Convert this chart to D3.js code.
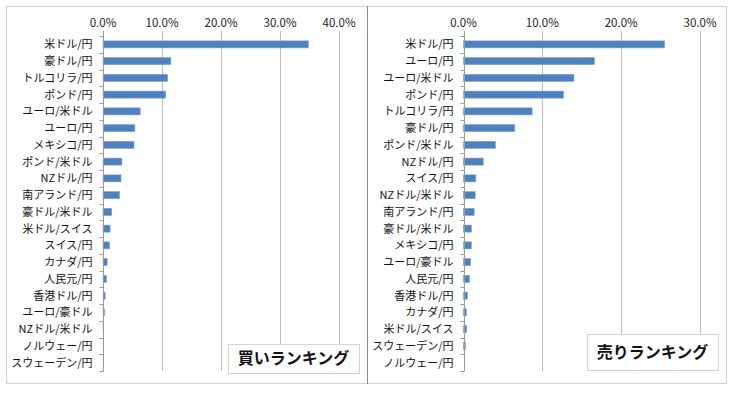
<!DOCTYPE html>
<meta charset="utf-8">
<style>
body { margin: 0; background: #fff; }
svg text { font-family: "Noto Sans CJK JP", "Noto Sans", sans-serif; }
</style>
<svg id="chart" width="740" height="396"></svg>
<script src="https://cdnjs.cloudflare.com/ajax/libs/d3/7.8.5/d3.min.js"></script>
<script>
// 買いランキング
var buyLabels = ["米ドル/円", "豪ドル/円", "トルコリラ/円", "ポンド/円", "ユーロ/米ドル", "ユーロ/円", "メキシコ/円",
    "ポンド/米ドル", "NZドル/円", "南アランド/円", "豪ドル/米ドル", "米ドル/スイス", "スイス/円", "カナダ/円",
    "人民元/円", "香港ドル/円", "ユーロ/豪ドル", "NZドル/米ドル", "ノルウェー/円", "スウェーデン/円"];
var buyValues = [34.8, 11.5, 10.95, 10.6, 6.3, 5.4, 5.25, 3.2, 3.05, 2.8, 1.47, 1.2, 1.1, 0.7, 0.57, 0.35, 0.25, 0.1, 0, 0];
var buyTicks = [0, 10, 20, 30, 40];

// 売りランキング
var sellLabels = ["米ドル/円", "ユーロ/円", "ユーロ/米ドル", "ポンド/円", "トルコリラ/円", "豪ドル/円", "ポンド/米ドル",
    "NZドル/円", "スイス/円", "NZドル/米ドル", "南アランド/円", "豪ドル/米ドル", "メキシコ/円", "ユーロ/豪ドル",
    "人民元/円", "香港ドル/円", "カナダ/円", "米ドル/スイス", "スウェーデン/円", "ノルウェー/円"];
var sellValues = [25.5, 16.6, 14.0, 12.7, 8.7, 6.5, 4.06, 2.5, 1.56, 1.48, 1.35, 1.0, 1.0, 0.9, 0.76, 0.5, 0.38, 0.38, 0.25, 0];
var sellTicks = [0, 10, 20, 30];

var svg = d3.select("#chart");

function drawPanel(opt) {
    var g = svg.append("g");

    g.append("rect")
        .attr("x", opt.frame[0] + 0.5).attr("y", opt.frame[1] + 0.5)
        .attr("width", opt.frame[2]).attr("height", opt.frame[3])
        .attr("fill", "#fff").attr("stroke", "#d0d0d0");

    var x = d3.scaleLinear()
        .domain([0, d3.max(opt.ticks)])
        .range([opt.left, opt.right]);
    var y = d3.scaleBand()
        .domain(opt.labels)
        .range([opt.top, opt.bottom])
        .paddingInner(0.58).paddingOuter(0.29);

    // grid lines
    g.selectAll("line.grid")
        .data(opt.ticks.slice(1))
        .enter().append("line")
        .attr("class", "grid")
        .attr("x1", function(d) { return Math.round(x(d)) + 0.5; })
        .attr("x2", function(d) { return Math.round(x(d)) + 0.5; })
        .attr("y1", opt.top - 5).attr("y2", opt.bottom)
        .attr("stroke", "#bdbdbd");

    // top tick labels
    g.selectAll("text.pct")
        .data(opt.ticks)
        .enter().append("text")
        .attr("class", "pct")
        .attr("x", function(d) { return x(d); })
        .attr("y", opt.top - 9)
        .attr("text-anchor", "middle")
        .attr("font-family", "'Liberation Sans', 'DejaVu Sans', sans-serif")
        .attr("font-size", 11.5)
        .attr("fill", "#222")
        .text(function(d) { return d.toFixed(1) + "%"; });

    // bars
    g.selectAll("rect.bar")
        .data(opt.values)
        .enter().append("rect")
        .attr("class", "bar")
        .attr("x", x(0))
        .attr("y", function(d, i) { return y(opt.labels[i]); })
        .attr("width", function(d) { return x(d) - x(0); })
        .attr("height", y.bandwidth())
        .attr("fill", "#4f81bd")
        .attr("stroke", "#7aa0d0")
        .attr("stroke-width", 0.6);

    // left axis with tick marks at band edges
    var ax = Math.round(x(0)) + 0.5;
    g.append("line")
        .attr("x1", ax).attr("x2", ax)
        .attr("y1", opt.top - 5).attr("y2", opt.bottom)
        .attr("stroke", "#9a9a9a");
    var step = y.step();
    g.selectAll("line.ytick")
        .data(d3.range(opt.labels.length + 1))
        .enter().append("line")
        .attr("class", "ytick")
        .attr("x1", ax - 4).attr("x2", ax)
        .attr("y1", function(i) { return Math.round(opt.top + i * step) + 0.5; })
        .attr("y2", function(i) { return Math.round(opt.top + i * step) + 0.5; })
        .attr("stroke", "#9a9a9a");

    g.selectAll("text.cat")
        .data(opt.labels)
        .enter().append("text")
        .attr("class", "cat")
        .attr("x", ax - 11)
        .attr("y", function(d) { return y(d) + y.bandwidth() / 2; })
        .attr("dy", "0.36em")
        .attr("text-anchor", "end")
        .attr("font-size", 11)
        .attr("fill", "#111")
        .text(function(d) { return d; });

    // title box
    g.append("rect")
        .attr("x", opt.box[0] + 0.5).attr("y", opt.box[1] + 0.5)
        .attr("width", opt.box[2]).attr("height", opt.box[3])
        .attr("fill", "#fff").attr("stroke", "#d4d4d4");
    g.append("text")
        .attr("x", opt.box[0] + opt.box[2] / 2)
        .attr("y", opt.box[1] + opt.box[3] / 2)
        .attr("dy", "0.36em")
        .attr("text-anchor", "middle")
        .attr("font-size", 16)
        .attr("font-weight", "bold")
        .attr("fill", "#111")
        .text(opt.title);
}

drawPanel({
    labels: buyLabels, values: buyValues, ticks: buyTicks, title: "買いランキング",
    frame: [6, 6, 361, 377],
    left: 103, right: 339, top: 36, bottom: 371,
    box: [228, 344, 131, 29]
});

drawPanel({
    labels: sellLabels, values: sellValues, ticks: sellTicks, title: "売りランキング",
    frame: [367, 6, 359, 377],
    left: 463.5, right: 700, top: 36, bottom: 371,
    box: [587, 334, 131, 36]
});

// divider between panels
svg.append("line")
    .attr("x1", 367.5).attr("x2", 367.5)
    .attr("y1", 6).attr("y2", 384)
    .attr("stroke", "#8a8a8a");
</script>
